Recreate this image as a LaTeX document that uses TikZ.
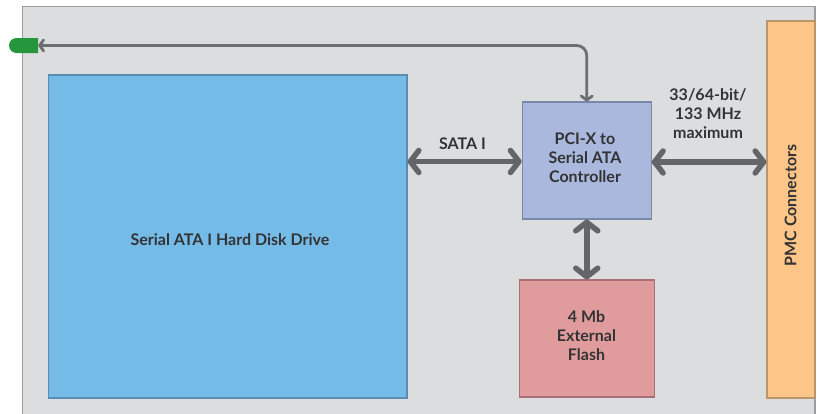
\documentclass[tikz,border=0pt]{standalone}
\usepackage{fontspec}
\setmainfont{Lato}[BoldFont={Lato Bold}]
\usepackage{tikz}
\usetikzlibrary{arrows.meta, positioning, shapes.misc}
\definecolor{panelgray}{HTML}{DCDDDF}
\definecolor{panelline}{HTML}{9C9D9F}
\definecolor{linkgray}{HTML}{636569}
\definecolor{labelgray}{HTML}{333336}
\definecolor{hddblue}{RGB}{117,187,232}
\definecolor{hddline}{RGB}{88,140,178}
\definecolor{ctrlblue}{RGB}{169,184,220}
\definecolor{ctrlline}{RGB}{120,136,168}
\definecolor{flashred}{RGB}{224,156,156}
\definecolor{flashline}{RGB}{168,112,116}
\definecolor{pmcorange}{RGB}{253,197,135}
\definecolor{pmcline}{RGB}{186,150,106}
\definecolor{ledgreen}{RGB}{38,150,60}
\definecolor{ledlink}{RGB}{109,110,113}
\tikzset{>={Straight Barb[length=8.5pt,width=22pt,round]}}
\tikzset{blockbox/.style={draw, line width=1.1pt, inner sep=0pt}}
\tikzset{buslink/.style={<->, line width=5.5pt, linkgray}}
\tikzset{buslabel/.style={text=labelgray, align=center, font=\fontsize{16}{19}\selectfont\bfseries}}

\begin{document}
\begin{tikzpicture}[x=1pt, y=-1pt]
\useasboundingbox (0,0) rectangle (817,413);
\fill[white](0,0) rectangle (817,413);
\draw[panelline, fill=panelgray, line width=1.4pt](22.5,6.5) rectangle (815,430);
\node (hdd) at (227.75,236.5)[blockbox, fill=hddblue, draw=hddline, minimum width=358.5pt, minimum height=323pt]{};
\node (ctrl) at (586.75,160.5)[blockbox, fill=ctrlblue, draw=ctrlline, minimum width=129pt, minimum height=117pt]{};
\node (flash) at (586.75,338.5)[blockbox, fill=flashred, draw=flashline, minimum width=135pt, minimum height=117pt]{};
\node (pmc) at (791,209.5)[blockbox, fill=pmcorange, draw=pmcline, minimum width=48pt, minimum height=377pt]{};
\node (led) at (23.5,45.5)[rounded rectangle, rounded rectangle right arc=none, fill=ledgreen, inner sep=0pt, minimum width=29pt, minimum height=15pt]{};
\node (hddtext) at (230,239.5)[buslabel]{Serial ATA I Hard Disk Drive};
\node (ctrltext) at (585,157.5)[buslabel]{PCI-X to\\Serial ATA\\Controller};
\node (flashtext) at (586.5,335.5)[buslabel]{4 Mb\\External\\Flash};
\node (pmctext) at (790.5,205.5)[buslabel, rotate=90]{PMC Connectors};
\draw[<->, line width=2.8pt, ledlink, rounded corners=10pt, >={Straight Barb[length=4pt,width=11pt,round]}](led.east)--(ctrl.north |- led.east)--(ctrl.north);
\draw[buslink]([yshift=-1pt]ctrl.west)--([yshift=-1pt]ctrl.west -| hdd.east);
\draw[buslink]([yshift=-1.5pt]ctrl.east)--([yshift=-1.5pt]ctrl.east -| pmc.west);
\draw[buslink](ctrl.south)--(flash.north);
\node (satatext) at (462.5,144)[buslabel]{SATA I};
\node (speedtext) at (708,113.5)[buslabel]{33/64-bit/\\133 MHz\\maximum};
\end{tikzpicture}
\end{document}
